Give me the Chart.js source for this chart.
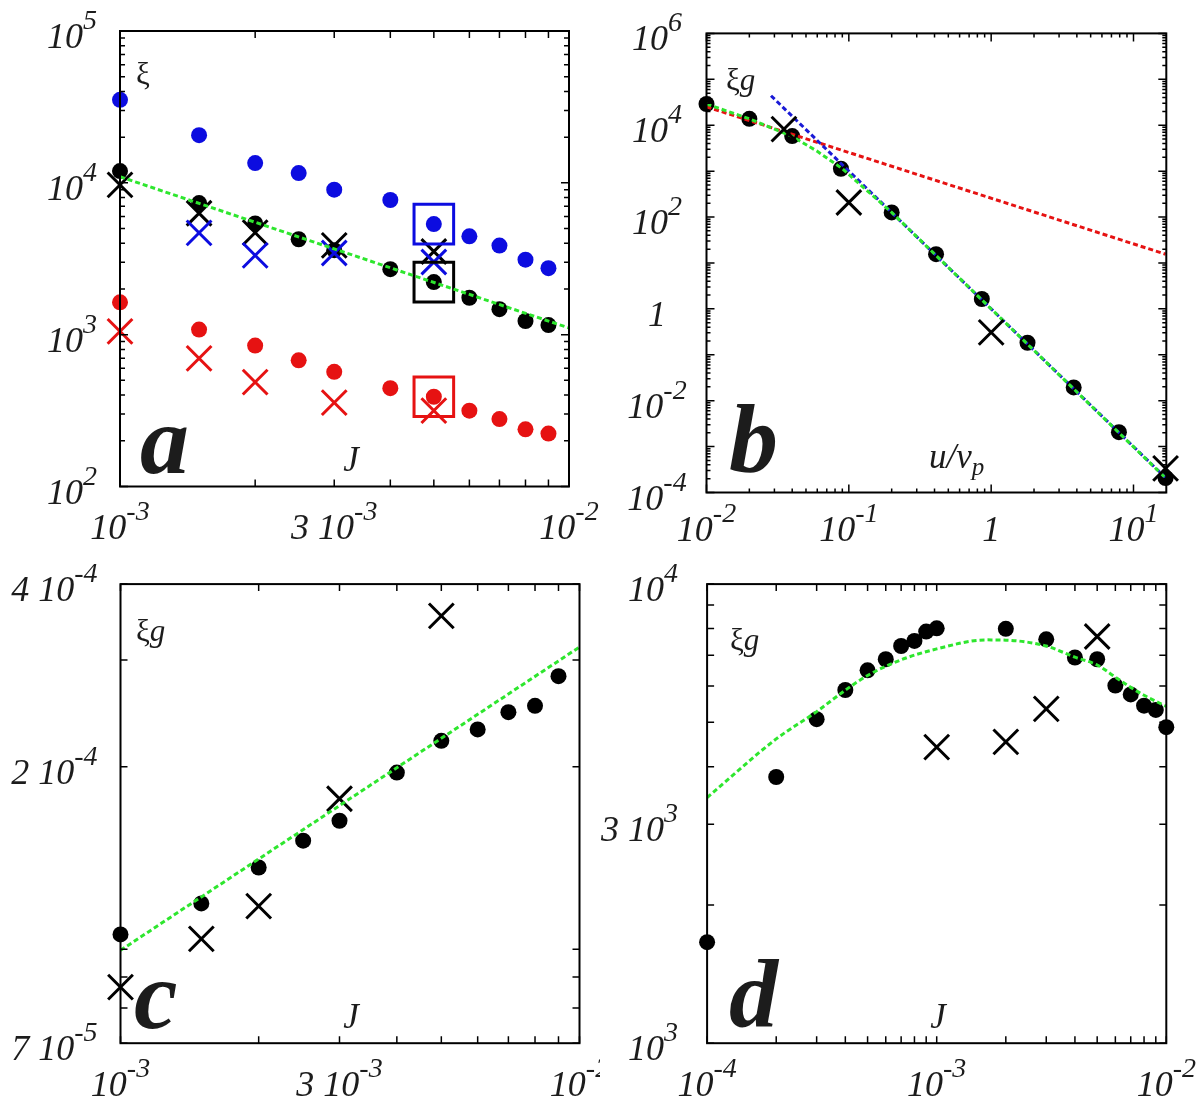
<!DOCTYPE html>
<html>
<head>
<meta charset="utf-8">
<title>xi vs J</title>
<script src="https://cdn.jsdelivr.net/npm/chart.js@4.4.1/dist/chart.umd.min.js"></script>
<style>
  html, body { margin: 0; padding: 0; background: #fff; }
  #wrap { position: relative; width: 1200px; height: 1100px; }
  #wrap canvas { position: absolute; }
</style>
</head>
<body>
<div id="wrap">
  <canvas id="chartA" width="600" height="550" style="left:0;top:0"></canvas>
  <canvas id="chartB" width="600" height="550" style="left:600px;top:0"></canvas>
  <canvas id="chartC" width="600" height="550" style="left:0;top:550px"></canvas>
  <canvas id="chartD" width="600" height="550" style="left:600px;top:550px"></canvas>
</div>
<script>
/* ── data: panel a ─────────────────────────────────── */
const jA = [1e-3, 1.5e-3, 2e-3, 2.5e-3, 3e-3, 4e-3, 5e-3, 6e-3, 7e-3, 8e-3, 9e-3];
const xiBlueA = [35200, 20600, 13500, 11600, 9020, 7710, 5350, 4440, 3860, 3120, 2740];
const xiBlackA = [11950, 7360, 5400, 4250, 3600, 2700, 2220, 1750, 1472, 1230, 1156];
const xiRedA = [1633, 1080, 848, 678, 569, 444, 390, 316, 278, 238, 223];
const jCrossA = [1e-3, 1.5e-3, 2e-3, 3e-3, 5e-3];
const crossBlackA = [9700, 6310, 4700, 3870, 3530];
const crossBlueA = [null, 4680, 3330, 3450, 3010];
const crossRedA = [1052, 698, 487, 357, 316];
const jBoxA = [5e-3];
const boxBlueA = [5350];
const boxBlackA = [2220];
const boxRedA = [390];
const fitJA = [1e-3, 1e-2];
const fitA = [10970, 1107];

/* ── data: panel b ─────────────────────────────────── */
const uB = [0.01, 0.02, 0.04, 0.088, 0.2, 0.41, 0.86, 1.8, 3.8, 7.9, 16.8];
const xiB = [29000, 13800, 5800, 1127, 126, 15.5, 1.64, 0.183, 0.0194, 0.00206, 0.000207];
const uCrossB = [0.035, 0.1, 1, 16.8];
const crossB = [8200, 207, 0.308, 0.000335];
const redLineU = [0.01, 16.8];
const redLine = [25200, 15.5];
const blueLineU = [0.0284, 16.8];
const blueLine = [43900, 0.00021];
const greenU = [0.01, 0.02, 0.04, 0.06, 0.09, 0.2, 16.8];
const greenB = [29000, 13800, 5700, 2700, 1130, 126, 0.000207];

/* ── data: panel c ─────────────────────────────────── */
const jC = [1e-3, 1.5e-3, 2e-3, 2.5e-3, 3e-3, 4e-3, 5e-3, 6e-3, 7e-3, 8e-3, 9e-3];
const xiC = [1.058e-4, 1.19e-4, 1.364e-4, 1.51e-4, 1.629e-4, 1.956e-4, 2.206e-4, 2.304e-4, 2.46e-4, 2.52e-4, 2.82e-4];
const jCrossC = [1e-3, 1.5e-3, 2e-3, 3e-3, 5e-3];
const crossC = [8.66e-5, 1.04e-4, 1.178e-4, 1.771e-4, 3.546e-4];
const fitJC = [1e-3, 1e-2];
const fitC = [9.96e-5, 3.15e-4];

/* ── data: panel d ─────────────────────────────────── */
const jD = [1e-4, 2e-4, 3e-4, 4e-4, 5e-4, 6e-4, 7e-4, 8e-4, 9e-4, 1e-3, 2e-3, 3e-3, 4e-3, 5e-3, 6e-3, 7e-3, 8e-3, 9e-3, 1e-2];
const xiD = [1660, 3800, 5080, 5880, 6490, 6860, 7330, 7520, 7880, 8010, 7990, 7580, 6920, 6860, 6010, 5750, 5435, 5320, 4880];
const jCrossD = [1e-3, 2e-3, 3e-3, 5e-3];
const crossD = [4415, 4532, 5350, 7690];
const fitJD = [1e-4, 2e-4, 3e-4, 4e-4, 5e-4, 7e-4, 1e-3, 1.65e-3, 2e-3, 3e-3, 4e-3, 5e-3, 6e-3, 7e-3, 8e-3, 1e-2];
const fitD = [3427, 4600, 5275, 5875, 6325, 6840, 7225, 7560, 7550, 7330, 6930, 6665, 6273, 5957, 5725, 5416];

/* ── tick labels ───────────────────────────────────── */
const xLabelsJ = ['10^-3', '3 10^-3', '10^-2'];
const xLabelValsJ = [1e-3, 3e-3, 1e-2];
const yLabelsA = ['10^5', '10^4', '10^3', '10^2'];
const yLabelValsA = [1e5, 1e4, 1e3, 1e2];
const xLabelsB = ['10^-2', '10^-1', '1', '10^1'];
const xLabelValsB = [0.01, 0.1, 1, 10];
const yLabelsB = ['10^6', '10^4', '10^2', '1', '10^-2', '10^-4'];
const yLabelValsB = [1e6, 1e4, 1e2, 1, 1e-2, 1e-4];
const yLabelsC = ['4 10^-4', '2 10^-4', '7 10^-5'];
const yLabelValsC = [4e-4, 2e-4, 7e-5];
const xLabelsD = ['10^-4', '10^-3', '10^-2'];
const xLabelValsD = [1e-4, 1e-3, 1e-2];
const yLabelsD = ['10^4', '3 10^3', '10^3'];
const yLabelValsD = [1e4, 3e3, 1e3];

const BLUE = '#0c0ce0';
const RED = '#e61212';
const BLACK = '#000';
const GREEN = '#2ee62e';

const SERIF = "'Liberation Serif', 'Times New Roman', serif";
const F_MAIN = `italic 36px ${SERIF}`;
const F_SUP = `italic 28px ${SERIF}`;
const F_J = `italic 35px ${SERIF}`;
const F_XI = `31px ${SERIF}`;
const F_IT = `italic 31px ${SERIF}`;
const F_BIG = `bold italic 98px ${SERIF}`;

// ── helpers ──────────────────────────────────────────
function pts(xs, ys) {
    const out = [];
    xs.forEach((x, i) => { if (ys[i] != null) out.push({ x, y: ys[i] }); });
    return out;
}

function dots(xs, ys, color) {
    return { data: pts(xs, ys), pointStyle: 'circle', pointRadius: 8, backgroundColor: color, borderColor: color, borderWidth: 0, clip: false };
}

function crosses(xs, ys, color) {
    return { data: pts(xs, ys), pointStyle: 'crossRot', pointRadius: 17.5, borderColor: color, borderWidth: 3, clip: false };
}

function boxes(xs, ys, color) {
    return { data: pts(xs, ys), pointStyle: 'rect', pointRadius: 28, backgroundColor: 'rgba(0,0,0,0)', borderColor: color, borderWidth: 3, clip: false };
}

function dashed(xs, ys, color, smooth) {
    return {
        data: pts(xs, ys), showLine: true, pointRadius: 0, borderColor: color, borderWidth: 3,
        borderDash: [5, 3], fill: false, cubicInterpolationMode: smooth ? 'monotone' : 'default', tension: 0
    };
}

// tick positions 1..9 x 10^n between lo and hi
function logTicks(lo, hi, major, minor) {
    const out = [];
    for (let e = Math.floor(Math.log10(lo)); e <= Math.ceil(Math.log10(hi)); e++) {
        for (let k = 1; k <= 9; k++) {
            const v = k * Math.pow(10, e);
            if (v >= lo * 0.999 && v <= hi * 1.001) out.push([v, k === 1 ? major : minor]);
        }
    }
    return out;
}

function runs(ctx, parts, x, y, align) {
    let w = 0;
    parts.forEach(p => { ctx.font = p[1]; w += ctx.measureText(p[0]).width; });
    let cx = align === 'right' ? x - w : align === 'center' ? x - w / 2 : x;
    parts.forEach(p => {
        ctx.font = p[1];
        ctx.fillText(p[0], cx, y + (p[2] || 0));
        cx += ctx.measureText(p[0]).width;
    });
}

function tickText(txt) {
    const i = txt.indexOf('^');
    if (i < 0) return [[txt, F_MAIN, 0]];
    return [[txt.slice(0, i), F_MAIN, 0], [txt.slice(i + 1), F_SUP, -19]];
}

// frame, inward ticks on four sides, labels and notes
function framePlugin(spec) {
    return {
        id: 'frame',
        afterDatasetsDraw(chart) {
            const { ctx, chartArea: a } = chart;
            const sx = chart.scales.x, sy = chart.scales.y;
            ctx.save();
            ctx.strokeStyle = '#000';
            ctx.lineWidth = 1.5;
            ctx.beginPath();
            spec.xTicks.forEach(([v, len]) => {
                const p = sx.getPixelForValue(v);
                ctx.moveTo(p, a.bottom); ctx.lineTo(p, a.bottom - len);
                ctx.moveTo(p, a.top); ctx.lineTo(p, a.top + len);
            });
            spec.yTicks.forEach(([v, len]) => {
                const p = sy.getPixelForValue(v);
                ctx.moveTo(a.left, p); ctx.lineTo(a.left + len, p);
                ctx.moveTo(a.right, p); ctx.lineTo(a.right - len, p);
            });
            ctx.stroke();
            ctx.lineWidth = 2;
            ctx.strokeRect(a.left, a.top, a.right - a.left, a.bottom - a.top);

            ctx.fillStyle = '#1c1c1c';
            ctx.textAlign = 'left';
            ctx.textBaseline = 'alphabetic';
            spec.xLabels.forEach((t, i) => runs(ctx, tickText(t), sx.getPixelForValue(spec.xVals[i]), a.bottom + spec.xDy, 'center'));
            spec.yLabels.forEach((t, i) => runs(ctx, tickText(t), spec.yX, sy.getPixelForValue(spec.yVals[i]) + 17, spec.yAlign));
            spec.notes.forEach(n => runs(ctx, n.parts, n.x, n.y, n.align || 'left'));
            ctx.restore();
        }
    };
}

function makePanel(id, datasets, xr, yr, padding, spec) {
    return new Chart(document.getElementById(id), {
        type: 'scatter',
        data: { datasets },
        options: {
            responsive: false,
            animation: false,
            events: [],
            layout: { padding },
            plugins: { legend: { display: false }, tooltip: { enabled: false } },
            scales: {
                x: { type: 'logarithmic', min: xr[0], max: xr[1], display: false },
                y: { type: 'logarithmic', min: yr[0], max: yr[1], display: false }
            }
        },
        plugins: [framePlugin(spec)]
    });
}

// ── panel a ──────────────────────────────────────────
makePanel('chartA', [
    dashed(fitJA, fitA, GREEN),
    boxes(jBoxA, boxBlueA, BLUE),
    boxes(jBoxA, boxBlackA, BLACK),
    boxes(jBoxA, boxRedA, RED),
    crosses(jCrossA, crossBlueA, BLUE),
    crosses(jCrossA, crossBlackA, BLACK),
    crosses(jCrossA, crossRedA, RED),
    dots(jA, xiBlackA, BLACK),
    dots(jA, xiBlueA, BLUE),
    dots(jA, xiRedA, RED)
], [1e-3, 1e-2], [1e2, 1e5], { left: 120, right: 19.5, top: 27, bottom: 63.5 }, {
    xTicks: logTicks(1e-3, 1e-2, 7, 7),
    yTicks: logTicks(1e2, 1e5, 8, 5),
    xLabels: xLabelsJ, xVals: xLabelValsJ, xDy: 52,
    yLabels: yLabelsA, yVals: yLabelValsA, yX: 97, yAlign: 'right',
    notes: [
        { parts: [['ξ', F_XI]], x: 136, y: 84 },
        { parts: [['a', F_BIG]], x: 140, y: 473 },
        { parts: [['J', F_J]], x: 351, y: 471, align: 'center' }
    ]
});

// ── panel b ──────────────────────────────────────────
makePanel('chartB', [
    crosses(uCrossB, crossB, BLACK),
    dashed(greenU, greenB, GREEN),
    dashed(blueLineU, blueLine, '#1a1ad6'),
    dashed(redLineU, redLine, RED),
    dots(uB, xiB, BLACK)
], [0.01, 17], [1e-4, 1e6], { left: 106.5, right: 33.7, top: 33.4, bottom: 57.5 }, {
    xTicks: logTicks(0.01, 17, 8, 4),
    yTicks: logTicks(1e-4, 1e6, 8, 4),
    xLabels: xLabelsB, xVals: xLabelValsB, xDy: 48,
    yLabels: yLabelsB, yVals: yLabelValsB, yX: 57, yAlign: 'center',
    notes: [
        { parts: [['ξ', F_XI], ['g', F_IT]], x: 126, y: 90 },
        { parts: [['b', F_BIG]], x: 129, y: 472 },
        { parts: [['u/v', F_J], ['p', `italic 25px ${SERIF}`, 7]], x: 329, y: 468 }
    ]
});

// ── panel c ──────────────────────────────────────────
makePanel('chartC', [
    dashed(fitJC, fitC, GREEN),
    crosses(jCrossC, crossC, BLACK),
    dots(jC, xiC, BLACK)
], [1e-3, 1e-2], [7e-5, 4e-4], { left: 120.5, right: 19.1, top: 34.1, bottom: 56.8 }, {
    xTicks: logTicks(1e-3, 1e-2, 7, 7),
    yTicks: logTicks(7e-5, 4e-4, 7, 7),
    xLabels: xLabelsJ, xVals: xLabelValsJ, xDy: 53,
    yLabels: yLabelsC, yVals: yLabelValsC, yX: 97.5, yAlign: 'right',
    notes: [
        { parts: [['ξ', F_XI], ['g', F_IT]], x: 136, y: 91 },
        { parts: [['c', F_BIG]], x: 134, y: 478 },
        { parts: [['J', F_J]], x: 351, y: 478, align: 'center' }
    ]
});

// ── panel d ──────────────────────────────────────────
makePanel('chartD', [
    crosses(jCrossD, crossD, BLACK),
    dashed(fitJD, fitD, GREEN, true),
    dots(jD, xiD, BLACK)
], [1e-4, 1e-2], [1e3, 1e4], { left: 107.1, right: 33.7, top: 34.1, bottom: 56.8 }, {
    xTicks: logTicks(1e-4, 1e-2, 7, 7),
    yTicks: logTicks(1e3, 1e4, 7, 7),
    xLabels: xLabelsD, xVals: xLabelValsD, xDy: 53,
    yLabels: yLabelsD, yVals: yLabelValsD, yX: 78, yAlign: 'right',
    notes: [
        { parts: [['ξ', F_XI], ['g', F_IT]], x: 130, y: 100 },
        { parts: [['d', F_BIG]], x: 129, y: 477 },
        { parts: [['J', F_J]], x: 338, y: 478, align: 'center' }
    ]
});
</script>
</body>
</html>
